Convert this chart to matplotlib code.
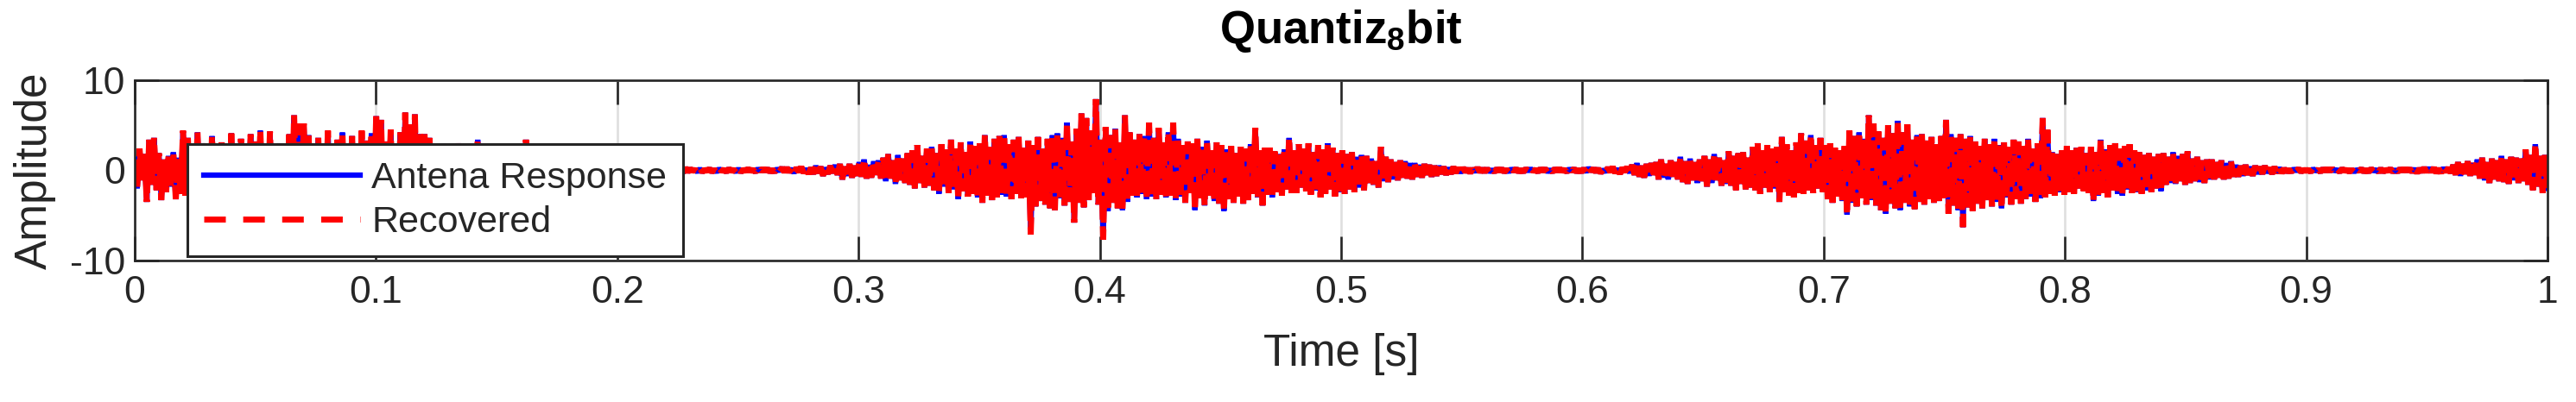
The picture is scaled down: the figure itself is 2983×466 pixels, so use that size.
import numpy as np
import matplotlib
matplotlib.use('Agg')
import matplotlib.pyplot as plt
from matplotlib.lines import Line2D

plt.rcParams['font.family'] = ['Liberation Sans', 'DejaVu Sans']
plt.rcParams['mathtext.fontset'] = 'custom'
plt.rcParams['mathtext.rm'] = 'Liberation Sans'
plt.rcParams['mathtext.bf'] = 'Liberation Sans:bold'

titulo = r'Quantiz$_\mathbf{8}$bit'
rotulos = ['Antena Response', 'Recovered']
xticks = [0, 0.1, 0.2, 0.3, 0.4, 0.5, 0.6, 0.7, 0.8, 0.9, 1]
xtick_labels = ['0', '0.1', '0.2', '0.3', '0.4', '0.5', '0.6', '0.7', '0.8', '0.9', '1']
yticks = [-10, 0, 10]
ytick_labels = ['-10', '0', '10']

# amostras (1 ms cada), um bloco por 0.1 s
amp_00 = [1.2, -2.0, 2.4, -1.1, 1.8, -3.5, 3.4, -1.6, 3.6, -2.2, 1.9, -3.3, 1.2, -2.4, 1.6, -1.8, 2.0, -3.2, 1.4, -2.6,
          4.4, -2.8, 3.6, -3.1, 2.2, -2.5, 4.2, -3.3, 3.0, -2.0, 2.6, -3.4, 3.8, -2.2, 1.9, -3.0, 3.1, -2.7, 2.4, -3.6,
          4.1, -2.9, 2.7, -3.8, 3.5, -2.4, 1.8, -3.2, 4.0, -2.6, 3.2, -4.0, 4.4, -2.8, 2.5, -3.5, 4.3, -3.9, 2.1, -3.0,
          3.0, -4.2, 2.6, -3.6, 4.0, -4.5, 6.1, -3.4, 5.2, -4.4, 5.2, -3.8, 3.9, -4.5, 2.4, -3.0, 3.6, -4.1, 2.8, -3.5,
          4.4, -3.7, 2.9, -4.0, 3.4, -2.6, 4.2, -3.9, 3.0, -3.3, 3.8, -4.2, 2.5, -3.1, 4.4, -3.8, 3.3, -4.6, 4.1, -3.0]
amp_01 = [6.0, -4.4, 5.6, -5.0, 3.2, -3.6, 4.5, -4.8, 2.9, -3.9, 4.2, -5.2, 6.4, -4.1, 5.1, -4.7, 6.2, -5.5, 4.0, -3.8,
          4.0, -3.5, 3.6, -4.2, 2.8, -3.1, 2.4, -3.6, 3.0, -2.7, 2.9, -2.8, 2.2, -3.2, 3.0, -2.4, 1.8, -2.9, 2.6, -2.1,
          2.5, -3.0, 3.4, -2.6, 2.1, -2.8, 2.8, -2.2, 1.9, -2.7, 2.4, -2.5, 1.7, -2.9, 2.6, -1.9, 2.2, -2.4, 1.6, -2.2,
          2.3, -2.6, 3.4, -2.0, 1.8, -2.5, 2.0, -1.7, 2.2, -2.1, 1.9, -1.6, 1.4, -2.0, 2.0, -1.5, 1.2, -1.8, 1.7, -1.3,
          1.5, -1.2, 1.1, -1.5, 1.3, -0.9, 1.4, -1.3, 0.9, -1.1, 1.0, -1.2, 0.8, -0.9, 1.2, -1.0, 0.7, -1.1, 0.9, -0.8]
amp_02 = [0.8, -0.6, 0.7, -0.8, 0.5, -0.7, 0.6, -0.5, 0.7, -0.6, 0.5, -0.4, 0.4, -0.5, 0.3, -0.4, 0.5, -0.3, 0.4, -0.4,
          0.3, -0.3, 0.2, -0.3, 0.3, -0.2, 0.2, -0.3, 0.3, -0.2, 0.2, -0.1, 0.1, -0.2, 0.2, -0.2, 0.1, -0.1, 0.2, -0.2,
          0.1, -0.2, 0.2, -0.1, 0.1, -0.2, 0.2, -0.1, 0.1, -0.2, 0.2, -0.2, 0.1, -0.1, 0.2, -0.1, 0.1, -0.2, 0.2, -0.1,
          0.2, -0.1, 0.2, -0.2, 0.1, -0.2, 0.2, -0.1, 0.3, -0.2, 0.3, -0.2, 0.2, -0.3, 0.3, -0.2, 0.4, -0.3, 0.2, -0.4,
          0.3, -0.4, 0.5, -0.3, 0.4, -0.6, 0.3, -0.4, 0.5, -0.3, 0.6, -0.5, 0.7, -1.0, 0.4, -0.6, 0.7, -0.8, 0.5, -0.6]
amp_03 = [0.9, -0.7, 1.2, -0.9, 0.6, -0.8, 1.0, -0.5, 1.1, -0.9, 1.4, -1.2, 1.8, -0.9, 1.1, -1.5, 1.7, -1.1, 1.3, -1.4,
          1.9, -1.6, 2.2, -2.0, 2.8, -1.4, 1.6, -1.9, 2.4, -1.7, 2.6, -2.2, 1.9, -2.6, 2.9, -1.8, 2.3, -2.5, 3.4, -2.1,
          2.4, -3.2, 3.1, -2.3, 2.0, -2.9, 3.2, -2.6, 2.7, -3.0, 3.0, -3.6, 3.9, -2.8, 2.6, -3.3, 3.5, -3.0, 3.8, -2.7,
          3.9, -2.9, 2.9, -3.2, 3.4, -2.6, 3.7, -3.1, 2.5, -3.0, 3.3, -7.1, 2.8, -4.0, 3.7, -3.4, 2.4, -3.8, 3.5, -4.2,
          3.9, -4.4, 4.1, -3.1, 3.6, -3.9, 5.3, -3.5, 3.2, -5.8, 4.6, -3.6, 6.3, -4.1, 5.8, -3.3, 4.4, -2.5, 7.9, -3.8]
amp_04 = [3.4, -7.7, 4.8, -4.5, 3.9, -3.6, 4.6, -4.2, 3.1, -4.4, 6.1, -3.5, 4.2, -2.8, 3.4, -3.0, 4.0, -2.6, 3.8, -3.2,
          5.3, -2.9, 3.6, -3.2, 4.7, -2.7, 3.1, -3.0, 4.2, -2.8, 5.3, -3.3, 3.5, -2.9, 2.8, -3.6, 3.2, -2.5, 3.0, -4.4,
          3.5, -3.1, 2.6, -3.9, 3.3, -2.8, 2.2, -3.4, 3.1, -3.7, 2.8, -4.5, 2.3, -3.2, 2.7, -3.6, 1.9, -2.9, 2.6, -3.7,
          2.4, -3.3, 2.9, -2.6, 4.7, -3.0, 2.2, -3.9, 2.5, -2.7, 2.5, -3.0, 2.1, -2.4, 1.8, -2.8, 2.3, -2.1, 3.6, -2.5,
          2.2, -2.5, 2.9, -1.9, 2.4, -2.3, 3.0, -2.7, 2.0, -2.2, 2.8, -3.0, 2.3, -2.6, 3.0, -2.1, 2.5, -2.9, 1.9, -2.4]
amp_05 = [2.2, -2.6, 1.8, -2.1, 2.0, -2.4, 1.5, -1.9, 1.7, -2.2, 1.6, -1.4, 1.3, -1.6, 1.0, -1.9, 2.6, -1.2, 1.5, -1.3,
          1.2, -1.0, 0.9, -1.1, 1.1, -0.8, 1.0, -0.9, 0.8, -1.0, 0.8, -0.7, 0.6, -0.8, 0.7, -0.5, 0.6, -0.7, 0.5, -0.6,
          0.5, -0.4, 0.4, -0.5, 0.3, -0.4, 0.4, -0.3, 0.3, -0.3, 0.3, -0.2, 0.2, -0.3, 0.2, -0.2, 0.3, -0.2, 0.2, -0.2,
          0.2, -0.2, 0.1, -0.2, 0.2, -0.1, 0.2, -0.2, 0.1, -0.2, 0.2, -0.1, 0.2, -0.2, 0.1, -0.2, 0.2, -0.1, 0.2, -0.1,
          0.1, -0.2, 0.2, -0.1, 0.2, -0.2, 0.1, -0.2, 0.2, -0.1, 0.2, -0.1, 0.1, -0.2, 0.2, -0.1, 0.2, -0.2, 0.1, -0.2]
amp_06 = [0.2, -0.2, 0.3, -0.1, 0.2, -0.2, 0.2, -0.3, 0.1, -0.2, 0.3, -0.2, 0.4, -0.3, 0.2, -0.4, 0.3, -0.2, 0.4, -0.3,
          0.6, -0.5, 0.8, -0.7, 0.5, -0.8, 0.7, -0.6, 0.8, -0.5, 0.9, -1.0, 1.2, -0.8, 0.7, -1.0, 1.1, -0.7, 0.9, -1.0,
          1.5, -1.3, 1.0, -1.5, 1.3, -1.1, 0.9, -1.4, 1.2, -1.2, 1.6, -1.8, 1.2, -1.4, 1.8, -1.1, 1.4, -1.7, 1.1, -1.5,
          2.1, -1.7, 1.6, -2.2, 1.9, -1.5, 2.0, -2.1, 1.4, -1.9, 2.6, -2.2, 3.0, -2.6, 2.2, -1.9, 2.8, -2.4, 2.4, -2.0,
          2.6, -3.5, 3.7, -2.4, 2.9, -2.8, 2.2, -3.0, 3.1, -2.5, 4.1, -2.6, 3.3, -2.2, 3.9, -2.5, 2.8, -2.0, 3.6, -2.4]
amp_07 = [2.8, -3.2, 3.0, -3.6, 2.5, -2.9, 2.2, -3.4, 2.7, -4.9, 4.4, -3.6, 3.8, -4.0, 4.2, -3.1, 3.5, -3.8, 6.1, -3.3,
          5.2, -3.9, 4.3, -4.4, 3.6, -4.8, 5.0, -3.7, 4.1, -4.2, 5.5, -4.4, 4.2, -3.6, 5.1, -4.0, 3.4, -4.3, 3.9, -3.5,
          4.0, -3.8, 3.3, -3.2, 3.7, -3.6, 2.9, -3.4, 3.8, -3.1, 5.6, -4.8, 4.0, -3.9, 3.6, -4.4, 4.0, -6.3, 3.5, -4.1,
          3.8, -4.5, 3.2, -3.7, 2.7, -4.2, 3.5, -3.3, 2.9, -4.0, 3.5, -3.5, 2.8, -4.2, 3.1, -3.0, 2.6, -3.8, 3.4, -3.2,
          3.2, -3.7, 2.7, -3.2, 3.5, -2.9, 2.4, -3.5, 3.0, -3.1, 5.8, -3.0, 4.5, -2.6, 2.0, -2.8, 1.8, -2.4, 2.2, -2.7]
amp_08 = [2.7, -2.4, 2.2, -2.6, 2.5, -2.0, 2.6, -2.3, 1.9, -2.5, 2.6, -3.4, 2.0, -2.8, 3.4, -2.5, 2.3, -3.0, 2.8, -2.2,
          3.0, -2.6, 2.4, -2.8, 2.7, -2.1, 2.9, -2.5, 2.2, -2.4, 2.0, -2.6, 1.7, -2.2, 1.9, -2.4, 1.5, -2.0, 1.8, -2.3,
          1.9, -1.6, 1.5, -1.4, 2.0, -1.5, 1.6, -1.2, 1.8, -1.6, 2.1, -1.4, 1.3, -1.2, 1.5, -1.3, 1.1, -1.4, 1.2, -1.0,
          1.2, -1.0, 0.9, -0.8, 1.1, -1.0, 0.8, -0.9, 1.0, -0.7, 0.6, -0.7, 0.5, -0.6, 0.6, -0.5, 0.4, -0.6, 0.5, -0.4,
          0.4, -0.4, 0.5, -0.3, 0.3, -0.4, 0.4, -0.3, 0.3, -0.3, 0.2, -0.2, 0.1, -0.2, 0.2, -0.1, 0.2, -0.2, 0.1, -0.1]
amp_09 = [0.1, -0.2, 0.2, -0.1, 0.1, -0.2, 0.2, -0.1, 0.2, -0.1, 0.2, -0.1, 0.1, -0.2, 0.2, -0.1, 0.1, -0.2, 0.1, -0.2,
          0.1, -0.1, 0.2, -0.2, 0.1, -0.2, 0.2, -0.1, 0.1, -0.2, 0.2, -0.2, 0.1, -0.1, 0.2, -0.2, 0.1, -0.2, 0.2, -0.1,
          0.2, -0.1, 0.2, -0.2, 0.2, -0.3, 0.2, -0.2, 0.3, -0.2, 0.3, -0.2, 0.3, -0.3, 0.2, -0.3, 0.3, -0.2, 0.3, -0.3,
          0.6, -0.5, 0.9, -0.6, 0.7, -0.4, 1.0, -0.6, 0.8, -0.5, 1.2, -0.9, 1.4, -1.1, 0.9, -1.4, 1.3, -1.0, 1.1, -1.2,
          1.6, -1.3, 1.2, -1.5, 1.5, -1.1, 1.4, -1.4, 1.3, -1.2, 2.3, -1.6, 1.7, -2.2, 2.9, -1.8, 1.6, -2.5, 1.7, -2.0]

antena = np.concatenate([amp_00, amp_01, amp_02, amp_03, amp_04,
                         amp_05, amp_06, amp_07, amp_08, amp_09])
# na figura as duas curvas coincidem
recuperado = antena.copy()
tempo = np.linspace(0, 1, len(antena))

cor_eixo = '#262626'
azul = '#0000ff'
vermelho = '#ff0000'

fig = plt.figure(figsize=(29.83, 4.66), dpi=100)
ax = fig.add_axes([0.0523, 0.352, 0.9366, 0.4485])

ax.plot(tempo, antena, color=azul, lw=4.5, solid_joinstyle='bevel')
# o original tem muito mais amostras, por isso o tracejado parece quase cheio
ax.plot(tempo, recuperado, color=vermelho, lw=5.0, linestyle=(0, (4.0, 1.1)),
        dash_joinstyle='bevel', dash_capstyle='butt')

ax.set_xlim(0, 1)
ax.set_ylim(-10, 10)
ax.set_xticks(xticks)
ax.set_xticklabels(xtick_labels)
ax.set_yticks(yticks)
ax.set_yticklabels(ytick_labels)

ax.set_axisbelow(True)
ax.grid(True, color='#dfdfdf', lw=1.9)

for s in ax.spines.values():
    s.set_linewidth(1.9)
    s.set_color(cor_eixo)

ax.tick_params(direction='in', length=20, width=1.9, top=True, right=True,
               colors=cor_eixo, labelsize=32)
ax.tick_params(axis='x', pad=12)
ax.tick_params(axis='y', pad=8)

ax.set_xlabel('Time [s]', fontsize=37, color=cor_eixo)
ax.xaxis.label.set_va('center')
ax.xaxis.set_label_coords(0.5, -0.517)
ax.set_ylabel('Amplitude', fontsize=37, color=cor_eixo)
ax.yaxis.label.set_va('center')
ax.yaxis.set_label_coords(-0.0415, 0.5)

ax.text(0.5, 1.2056, titulo, transform=ax.transAxes, ha='center', va='baseline',
        fontsize=38, fontweight='bold', color='black')

handles = [Line2D([], [], color=azul, lw=4.5),
           Line2D([], [], color=vermelho, lw=5.0, linestyle=(0, (3.6, 2.9)), dash_capstyle='butt')]
leg = ax.legend(handles, rotulos, loc='lower left', bbox_to_anchor=(0.0218, 0.024), borderaxespad=0,
                fontsize=31, handlelength=4.2, handletextpad=0.3, borderpad=0.45,
                labelspacing=0.25, fancybox=False, framealpha=1)
leg.get_frame().set_edgecolor(cor_eixo)
leg.get_frame().set_linewidth(2.2)
for t in leg.get_texts():
    t.set_color(cor_eixo)

fig.savefig('out.png', dpi=100)
